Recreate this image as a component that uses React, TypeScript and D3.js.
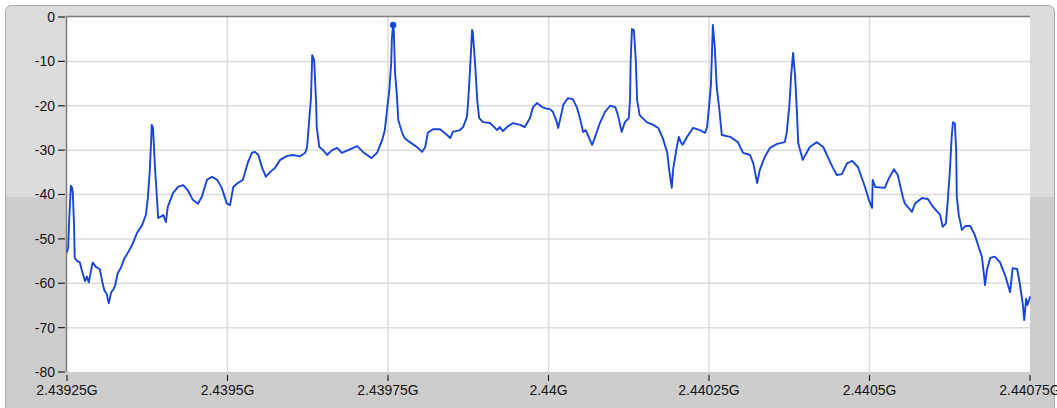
// Spectrum trace - D3.js line plot of a 1.5 MHz span around 2.44 GHz

import { useEffect, useRef } from "react";
import * as d3 from "d3";

// x values are offsets in kHz from 2.43925 GHz
const xTickKHz = [0, 250, 500, 750, 1000, 1250, 1500];
const xTickLabels = ["2.43925G", "2.4395G", "2.43975G", "2.44G", "2.44025G", "2.4405G", "2.44075G"];
const yTicks = [0, -10, -20, -30, -40, -50, -60, -70, -80];

const freqKHz = [
  0, 2, 3, 6, 8, 9, 11, 12, 16, 20, 23, 28, 31, 34, 37, 40, 45, 51, 55, 58,
  62, 65, 69, 72, 75, 79, 84, 89, 93, 101, 109, 117, 123, 126, 129, 131, 132, 134, 137, 140,
  142, 146, 150, 154, 157, 165, 173, 181, 188, 196, 204, 210, 218, 226, 234, 241, 249, 254, 259, 266,
  274, 282, 288, 293, 298, 304, 310, 316, 324, 332, 343, 352, 363, 371, 374, 377, 380, 382, 385, 388,
  389, 393, 399, 405, 413, 421, 428, 438, 452, 461, 474, 483, 491, 495, 498, 502, 505, 506, 508, 509,
  511, 514, 516, 522, 526, 534, 545, 553, 558, 562, 570, 581, 592, 597, 601, 612, 617, 623, 625, 628,
  631, 632, 636, 639, 642, 648, 659, 664, 670, 674, 679, 687, 695, 706, 713, 721, 726, 732, 740, 748,
  752, 757, 763, 765, 769, 773, 780, 788, 794, 799, 804, 808, 811, 818, 822, 830, 838, 846, 854, 858,
  864, 869, 875, 877, 878, 880, 883, 886, 888, 892, 903, 913, 921, 928, 935, 938, 942, 944, 949, 953,
  956, 959, 966, 975, 986, 994, 997, 1000, 1003, 1006, 1009, 1012, 1016, 1020, 1033, 1045, 1053, 1064, 1069, 1075,
  1079, 1087, 1095, 1106, 1118, 1121, 1125, 1128, 1131, 1134, 1137, 1139, 1146, 1157, 1168, 1178, 1185, 1193, 1199, 1207,
  1215, 1223, 1232, 1243, 1249, 1254, 1255, 1259, 1274, 1279, 1288, 1294, 1302, 1305, 1316, 1321, 1332, 1341, 1349, 1360,
  1364, 1369, 1372, 1375, 1378, 1380, 1383, 1385, 1386, 1389, 1394, 1399, 1407, 1414, 1419, 1425, 1428, 1430, 1433, 1438,
  1445, 1453, 1461, 1469, 1473, 1480, 1484, 1489, 1491, 1494, 1496, 1499, 1500,
];

const levelDb = [
  -53.0, -51.8, -47.0, -38.0, -38.5, -39.5, -47.0, -54.3, -55.0, -55.3, -57.0, -59.5, -58.5, -59.8, -57.5, -55.3, -56.3, -56.8, -59.7, -61.5,
  -62.5, -64.5, -62.0, -61.5, -60.5, -57.7, -56.5, -54.5, -53.6, -51.5, -48.7, -46.9, -44.5, -40.6, -34.5, -28.0, -24.3, -25.0, -33.8, -40.5,
  -45.3, -45.0, -44.6, -46.2, -42.8, -39.7, -38.3, -37.9, -39.0, -41.2, -42.1, -40.5, -36.7, -36.0, -36.7, -38.5, -42.0, -42.4, -38.3, -37.4,
  -36.7, -32.7, -30.6, -30.4, -31.1, -34.0, -36.0, -35.0, -34.0, -32.2, -31.3, -31.1, -31.4, -30.6, -29.3, -23.7, -18.3, -8.6, -9.7, -19.4,
  -24.8, -29.3, -30.0, -31.1, -30.0, -29.5, -30.6, -30.0, -29.1, -30.4, -31.8, -30.6, -27.7, -25.5, -21.6, -16.5, -10.4, -5.0, -1.8, -3.0,
  -12.6, -18.0, -23.2, -26.1, -27.3, -28.2, -29.3, -30.4, -29.3, -26.1, -25.3, -25.3, -26.6, -27.3, -25.9, -25.5, -24.8, -22.5, -18.7, -11.3,
  -2.9, -3.3, -11.3, -18.7, -22.8, -23.7, -23.9, -24.6, -25.5, -24.8, -25.7, -24.6, -23.9, -24.3, -24.8, -22.8, -20.3, -19.4, -20.3, -20.7,
  -20.7, -21.4, -23.7, -25.0, -22.5, -19.8, -18.3, -18.5, -20.3, -22.8, -25.9, -25.5, -26.5, -28.8, -27.3, -23.9, -21.4, -20.0, -20.3, -22.0,
  -25.9, -23.7, -22.8, -18.7, -9.7, -2.7, -3.0, -9.7, -18.7, -22.1, -23.7, -24.3, -25.0, -27.3, -30.6, -34.5, -38.5, -34.5, -30.0, -27.0,
  -28.2, -28.8, -27.0, -25.0, -25.5, -26.1, -24.8, -20.3, -15.3, -1.8, -6.8, -15.8, -20.7, -26.6, -27.0, -28.2, -30.6, -31.1, -33.0, -37.4,
  -34.5, -31.5, -29.5, -28.6, -28.2, -26.1, -20.3, -13.1, -8.1, -13.1, -21.6, -28.4, -32.2, -29.3, -28.2, -29.3, -31.5, -34.0, -35.6, -35.4,
  -33.0, -32.4, -33.8, -38.3, -41.2, -43.0, -36.7, -38.3, -38.5, -36.7, -34.3, -35.6, -40.6, -42.0, -43.9, -42.0, -40.8, -41.0, -42.8, -44.6,
  -47.3, -46.5, -41.2, -35.2, -27.0, -23.7, -24.0, -30.0, -40.6, -44.6, -48.0, -47.1, -47.1, -49.1, -51.4, -54.0, -57.7, -60.4, -57.0, -54.3,
  -54.0, -55.2, -58.1, -62.0, -56.6, -56.8, -60.0, -64.9, -68.3, -63.5, -64.9, -63.6, -63.0,
];

const markerKHz = 508;
const markerDb = -1.8;

export default function App() {
  const svgRef = useRef<SVGSVGElement>(null);

  useEffect(() => {
    if (!svgRef.current) return;
    const svg = d3.select(svgRef.current);
    svg.selectAll("*").remove();

    const left = 67;
    const right = 1030;
    const top = 17;
    const bottom = 372;

    const x = d3.scaleLinear().domain([0, 1500]).range([left, right]);
    const y = d3.scaleLinear().domain([-80, 0]).range([bottom, top]);

    // Panel background (two-tone, rounded top)
    svg.append("rect")
      .attr("x", 5.5).attr("y", 5.5)
      .attr("width", 1049).attr("height", 420)
      .attr("rx", 6)
      .attr("fill", "#dcdcdc")
      .attr("stroke", "#a9a9a9");
    svg.append("rect")
      .attr("x", 6).attr("y", 197)
      .attr("width", 1048).attr("height", 212)
      .attr("fill", "#cdcdcd");

    // Plot area
    svg.append("rect")
      .attr("x", left).attr("y", top)
      .attr("width", right - left).attr("height", bottom - top)
      .attr("fill", "#ffffff");

    // Grid
    const grid = svg.append("g").attr("stroke", "#dcdcdc").attr("stroke-width", 1.5);
    yTicks.slice(1, -1).forEach((v) => {
      grid.append("line")
        .attr("x1", left).attr("x2", right)
        .attr("y1", y(v)).attr("y2", y(v));
    });
    xTickKHz.slice(1, -1).forEach((v) => {
      grid.append("line")
        .attr("x1", x(v)).attr("x2", x(v))
        .attr("y1", top).attr("y2", bottom);
    });

    // Inset frame (top & left)
    svg.append("path")
      .attr("d", `M${left - 0.5},${bottom} V${top - 0.5} H${right}`)
      .attr("fill", "none")
      .attr("stroke", "#7c7c7c")
      .attr("stroke-width", 1.5);

    const font = "'Liberation Sans', Arial, sans-serif";

    // Y axis
    yTicks.forEach((v) => {
      svg.append("line")
        .attr("x1", 58).attr("x2", 65)
        .attr("y1", y(v)).attr("y2", y(v))
        .attr("stroke", "#222").attr("stroke-width", 1.2);
      svg.append("text")
        .attr("x", 55).attr("y", y(v))
        .attr("dy", "0.35em")
        .attr("text-anchor", "end")
        .attr("fill", "#151515")
        .style("font-family", font)
        .style("font-size", "14px")
        .text(v);
    });

    // X axis
    xTickKHz.forEach((v, i) => {
      svg.append("line")
        .attr("x1", x(v)).attr("x2", x(v))
        .attr("y1", 375).attr("y2", 381)
        .attr("stroke", "#222").attr("stroke-width", 1.2);
      svg.append("text")
        .attr("x", x(v)).attr("y", 395)
        .attr("text-anchor", "middle")
        .attr("fill", "#151515")
        .style("font-family", font)
        .style("font-size", "14px")
        .text(xTickLabels[i]);
    });

    // Trace
    const pts = freqKHz.map((f, i) => [f, levelDb[i]] as [number, number]);
    const line = d3.line<[number, number]>()
      .x((d) => x(d[0]))
      .y((d) => y(d[1]));

    svg.append("path")
      .datum(pts)
      .attr("d", line)
      .attr("fill", "none")
      .attr("stroke", "#1a45d6")
      .attr("stroke-width", 1.9)
      .attr("stroke-linejoin", "round");

    // Peak marker
    svg.append("circle")
      .attr("cx", x(markerKHz))
      .attr("cy", y(markerDb))
      .attr("r", 3.2)
      .attr("fill", "#1a45d6");
  }, []);

  return (
    <svg
      ref={svgRef}
      width={1057}
      height={408}
      style={{ position: "absolute", left: 0, top: 0, background: "#fff" }}
    />
  );
}
